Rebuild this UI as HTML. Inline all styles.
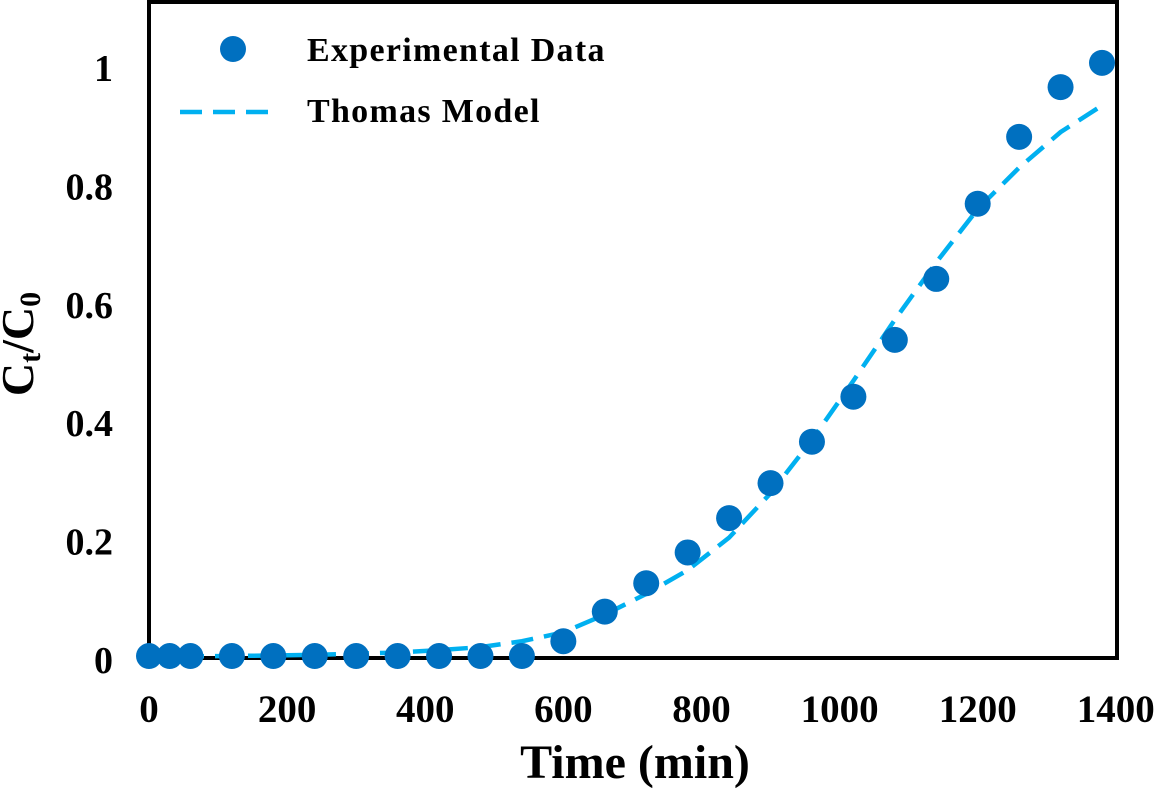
<!DOCTYPE html>
<html><head><meta charset="utf-8"><style>
body{margin:0;background:#fff;}
svg text{font-family:"Liberation Serif",serif;font-weight:bold;fill:#000;}
</style></head><body>
<svg id="chart" width="1157" height="790">
<rect x="149" y="2" width="968" height="656" fill="none" stroke="#000" stroke-width="4"/>
<g id="yticks"></g><g id="xticks"></g>
<path id="model" fill="none" stroke="#00B0F0" stroke-width="4.5" stroke-dasharray="22,11"/>
<g id="pts"></g>
<circle cx="233" cy="49" r="13" fill="#0070C0"/>
<text x="307" y="61" font-size="34" letter-spacing="1.3">Experimental Data</text>
<line x1="180" y1="112" x2="272" y2="112" stroke="#00B0F0" stroke-width="4.5" stroke-dasharray="22,11"/>
<text x="307" y="122" font-size="34" letter-spacing="1.3">Thomas Model</text>
<text x="635" y="778" font-size="48" text-anchor="middle">Time (min)</text>
<text transform="translate(33,344) rotate(-90)" font-size="46" text-anchor="middle">C<tspan font-size="30" dy="7">t</tspan><tspan dy="-7">/C</tspan><tspan font-size="30" dy="7">0</tspan></text>
</svg>
<script>
const xTicks=[0,200,400,600,800,1000,1200,1400];
const yTicks=[0,0.2,0.4,0.6,0.8,1];
const yTickLabels=["0","0.2","0.4","0.6","0.8","1"];
const expTime=[0,30,60,120,180,240,300,360,420,480,540,600,660,720,780,840,900,960,1020,1080,1140,1200,1260,1320,1380];
const expValue=[0.005,0.005,0.005,0.005,0.005,0.005,0.005,0.005,0.005,0.005,0.005,0.03,0.08,0.128,0.18,0.238,0.297,0.367,0.443,0.539,0.642,0.769,0.882,0.966,1.007];
const modelTime=[0,120,240,360,420,480,540,600,660,720,780,840,900,960,1020,1080,1140,1200,1260,1320,1380];
const modelValue=[0.004,0.005,0.007,0.011,0.015,0.02,0.03,0.045,0.075,0.11,0.15,0.205,0.28,0.37,0.47,0.573,0.67,0.76,0.83,0.89,0.935];
const X=v=>149+v*(953/1380);
const Y=v=>659-v*592;
const ns="http://www.w3.org/2000/svg";
const yt=document.getElementById('yticks');
yTicks.forEach((v,i)=>{const t=document.createElementNS(ns,'text');


t.setAttribute('x',113);t.setAttribute('y',Y(v)+14);t.setAttribute('text-anchor','end');t.setAttribute('font-size','38');t.textContent=yTickLabels[i];yt.appendChild(t);});
const xt=document.getElementById('xticks');
xTicks.forEach(v=>{const t=document.createElementNS(ns,'text');


t.setAttribute('x',X(v));t.setAttribute('y',722);t.setAttribute('text-anchor','middle');t.setAttribute('font-size','39');t.textContent=v;xt.appendChild(t);});
document.getElementById('model').setAttribute('d',modelTime.map((t,i)=>(i?'L':'M')+X(t)+','+Y(modelValue[i])).join(' '));
const pg=document.getElementById('pts');
expTime.forEach((t,i)=>{const c=document.createElementNS(ns,'circle');


c.setAttribute('cx',X(t));c.setAttribute('cy',Y(expValue[i]));c.setAttribute('r',13);c.setAttribute('fill','#0070C0');pg.appendChild(c);});
</script>
</body></html>
